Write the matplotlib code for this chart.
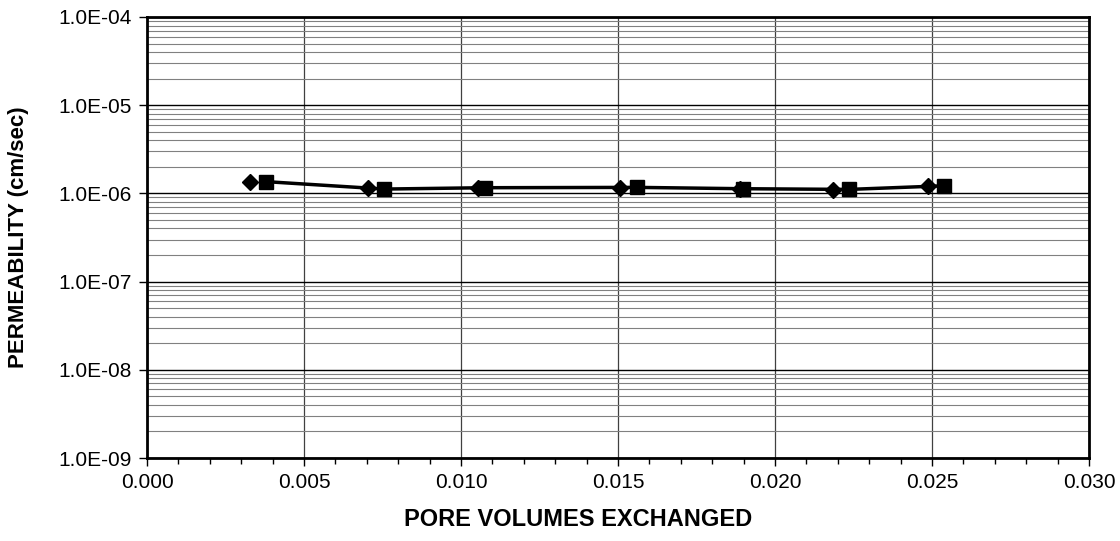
import matplotlib
matplotlib.use("Agg")
import matplotlib.pyplot as plt
from matplotlib.ticker import LogLocator, MultipleLocator, FuncFormatter, NullFormatter

plt.rcParams['font.family'] = ['Liberation Sans', 'DejaVu Sans']

# data
pv_a = [0.00328, 0.00703, 0.01054, 0.01506, 0.01889, 0.02185, 0.02487]
k_a = [1.35e-6, 1.14e-6, 1.16e-6, 1.16e-6, 1.13e-6, 1.10e-6, 1.21e-6]
pv_b = [0.00378, 0.00755, 0.01077, 0.0156, 0.01898, 0.02236, 0.02538]
k_b = [1.36e-6, 1.12e-6, 1.16e-6, 1.17e-6, 1.13e-6, 1.11e-6, 1.22e-6]

fig = plt.figure(figsize=(11.2, 5.41), dpi=100)
ax = fig.add_axes([147/1120, 1 - 458/541, (1089-147)/1120, (458-17)/541])

ax.plot(pv_b, k_b, color='black', lw=2.5, marker='s', ms=10, zorder=4)
ax.plot(pv_a, k_a, ls='none', color='black', marker='D', ms=8, zorder=5)

ax.set_yscale('log')
ax.set_ylim(1e-9, 1e-4)
ax.set_xlim(0, 0.030)
ax.xaxis.set_major_locator(MultipleLocator(0.005))
ax.xaxis.set_minor_locator(MultipleLocator(0.001))
ax.xaxis.set_major_formatter(FuncFormatter(lambda v, p: f"{v:.3f}"))
ax.yaxis.set_major_locator(LogLocator(base=10, numticks=10))
ax.yaxis.set_minor_locator(LogLocator(base=10, subs=range(2, 10), numticks=20))
ax.yaxis.set_major_formatter(FuncFormatter(lambda v, p: f"{v:.1E}"))
ax.yaxis.set_minor_formatter(NullFormatter())

ax.grid(True, which='major', axis='y', color='black', lw=1.0)
ax.grid(True, which='minor', axis='y', color='#808080', lw=0.8)
ax.grid(True, which='major', axis='x', color='#404040', lw=0.9)

ax.tick_params(axis='both', which='major', direction='out', length=6, width=1, labelsize=15, pad=5)
ax.tick_params(axis='x', which='minor', direction='out', length=4, width=1)
ax.tick_params(axis='y', which='minor', length=0)
for s in ax.spines.values():
    s.set_linewidth(2)

ax.set_xlabel("PORE VOLUMES EXCHANGED", fontsize=17, fontweight='bold')
ax.xaxis.set_label_coords(0.4575, -0.113)
ax.set_ylabel("PERMEABILITY (cm/sec)", fontsize=16, fontweight='bold', labelpad=21)

fig.savefig("out.png", dpi=100)
